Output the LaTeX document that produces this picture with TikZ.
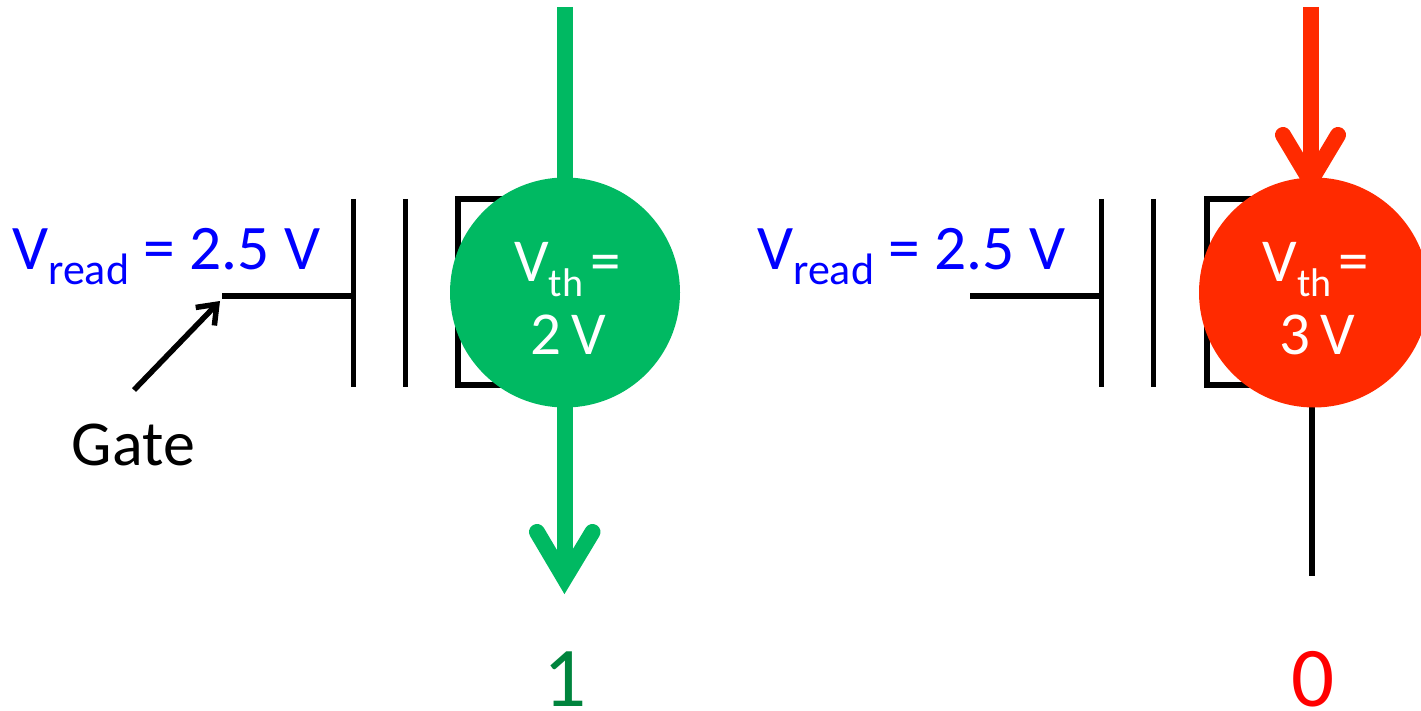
\documentclass[tikz,border=0pt]{standalone}
\usepackage{fontspec}
\setmainfont{Carlito}
\usetikzlibrary{arrows.meta}
\definecolor{cgreen}{HTML}{00B962}
\definecolor{cred}{HTML}{FF2A00}
\definecolor{dgreen}{HTML}{00843D}
\newcommand{\rdsub}{V\raisebox{-15pt}{\fontsize{44}{44}\selectfont read}}
\newcommand{\thsub}{V\raisebox{-16pt}{\fontsize{40}{40}\selectfont th}}
\tikzset{
 x=1pt,y=-1pt,
 wire/.style={draw=black,line width=5.5pt},
 flow/.style={line width=16pt},
 barb/.style={line width=16pt,line cap=round,miter limit=10},
 disc/.style={circle,inner sep=0pt,minimum size=230pt},
 vtext/.style={text=white,font=\fontsize{61}{61}\selectfont,anchor=base,inner sep=0pt},
 blue label/.style={text=blue,font=\fontsize{63.5}{64}\selectfont,anchor=base west,inner sep=0pt},
 big digit/.style={anchor=base,inner sep=0pt,font=\fontsize{85}{85}\selectfont},
}
\begin{document}
\begin{tikzpicture}
\useasboundingbox (0,0) rectangle (1421,711);
\clip (0,0) rectangle (1421,711);
% left cell
\coordinate (gl) at (222,296);
\coordinate (gj) at (353.5,296);
\coordinate (p1a) at (353.5,199);
\coordinate (p1b) at (353.5,386.5);
\coordinate (p2a) at (405.5,199);
\coordinate (p2b) at (405.5,386.5);
\coordinate (ba) at (520,199);
\coordinate (bb) at (458,199);
\coordinate (bc) at (458,385);
\coordinate (bd) at (520,385);
\draw[wire] (gl) -- (gj);
\draw[wire] (p1a) -- (p1b);
\draw[wire] (p2a) -- (p2b);
\draw[wire] (ba) -- (bb) -- (bc) -- (bd);
\coordinate (gateTail) at (134,390);
\coordinate (gateTip) at (220,301);
\draw[line width=5.5pt,-{Straight Barb[length=17pt,width=26pt,line width=5.5pt]}] (gateTail) -- (gateTip);
\node[anchor=base,inner sep=0pt,font=\fontsize{64}{64}\selectfont] (gate) at (133.5,465) {Gate};
\node[blue label] (vl) at (12,270) {\rdsub{} = 2.5 V};
\coordinate (gtop) at (564.5,7);
\coordinate (gbot) at (564.5,580);
\draw[cgreen,flow] (gtop) -- (gbot);
\coordinate (gb1) at (537,532);
\coordinate (gv) at (564.5,578.5);
\coordinate (gb2) at (592.5,532);
\draw[cgreen,barb] (gb1) -- (gv) -- (gb2);
\node[disc,fill=cgreen] (dl) at (565,292.5) {};
\node[vtext] (tl) at (567.5,281) {\thsub{}\hspace{-3pt}\,=};
\node[vtext] (tl2) at (568.5,354) {2\,V};
\node[big digit,text=dgreen] (one) at (565,706) {1};
% right cell
\coordinate (hl) at (970,296);
\coordinate (hj) at (1101.5,296);
\coordinate (q1a) at (1101.5,199);
\coordinate (q1b) at (1101.5,386.5);
\coordinate (q2a) at (1153.5,199);
\coordinate (q2b) at (1153.5,386.5);
\coordinate (ca) at (1270,199);
\coordinate (cb) at (1207,199);
\coordinate (cc) at (1207,385);
\coordinate (cd) at (1270,385);
\draw[wire] (hl) -- (hj);
\draw[wire] (q1a) -- (q1b);
\draw[wire] (q2a) -- (q2b);
\draw[wire] (ca) -- (cb) -- (cc) -- (cd);
\node[blue label] (vr) at (757,270) {\rdsub{} = 2.5 V};
\coordinate (rtop) at (1310.5,7);
\coordinate (rbot) at (1310.5,185);
\draw[cred,flow] (rtop) -- (rbot);
\coordinate (rb1) at (1283,135);
\coordinate (rv) at (1310.5,181);
\coordinate (rb2) at (1338,135);
\draw[cred,barb] (rb1) -- (rv) -- (rb2);
\coordinate (sa) at (1312,400);
\coordinate (sb) at (1312,576);
\draw[wire] (sa) -- (sb);
\node[disc,fill=cred] (dr) at (1314,292.5) {};
\node[vtext] (tr) at (1316,281) {\thsub{}\hspace{-3pt}\,=};
\node[vtext] (tr2) at (1317,354) {3\,V};
\node[big digit,text=red] (zero) at (1313,706) {0};
\end{tikzpicture}
\end{document}
